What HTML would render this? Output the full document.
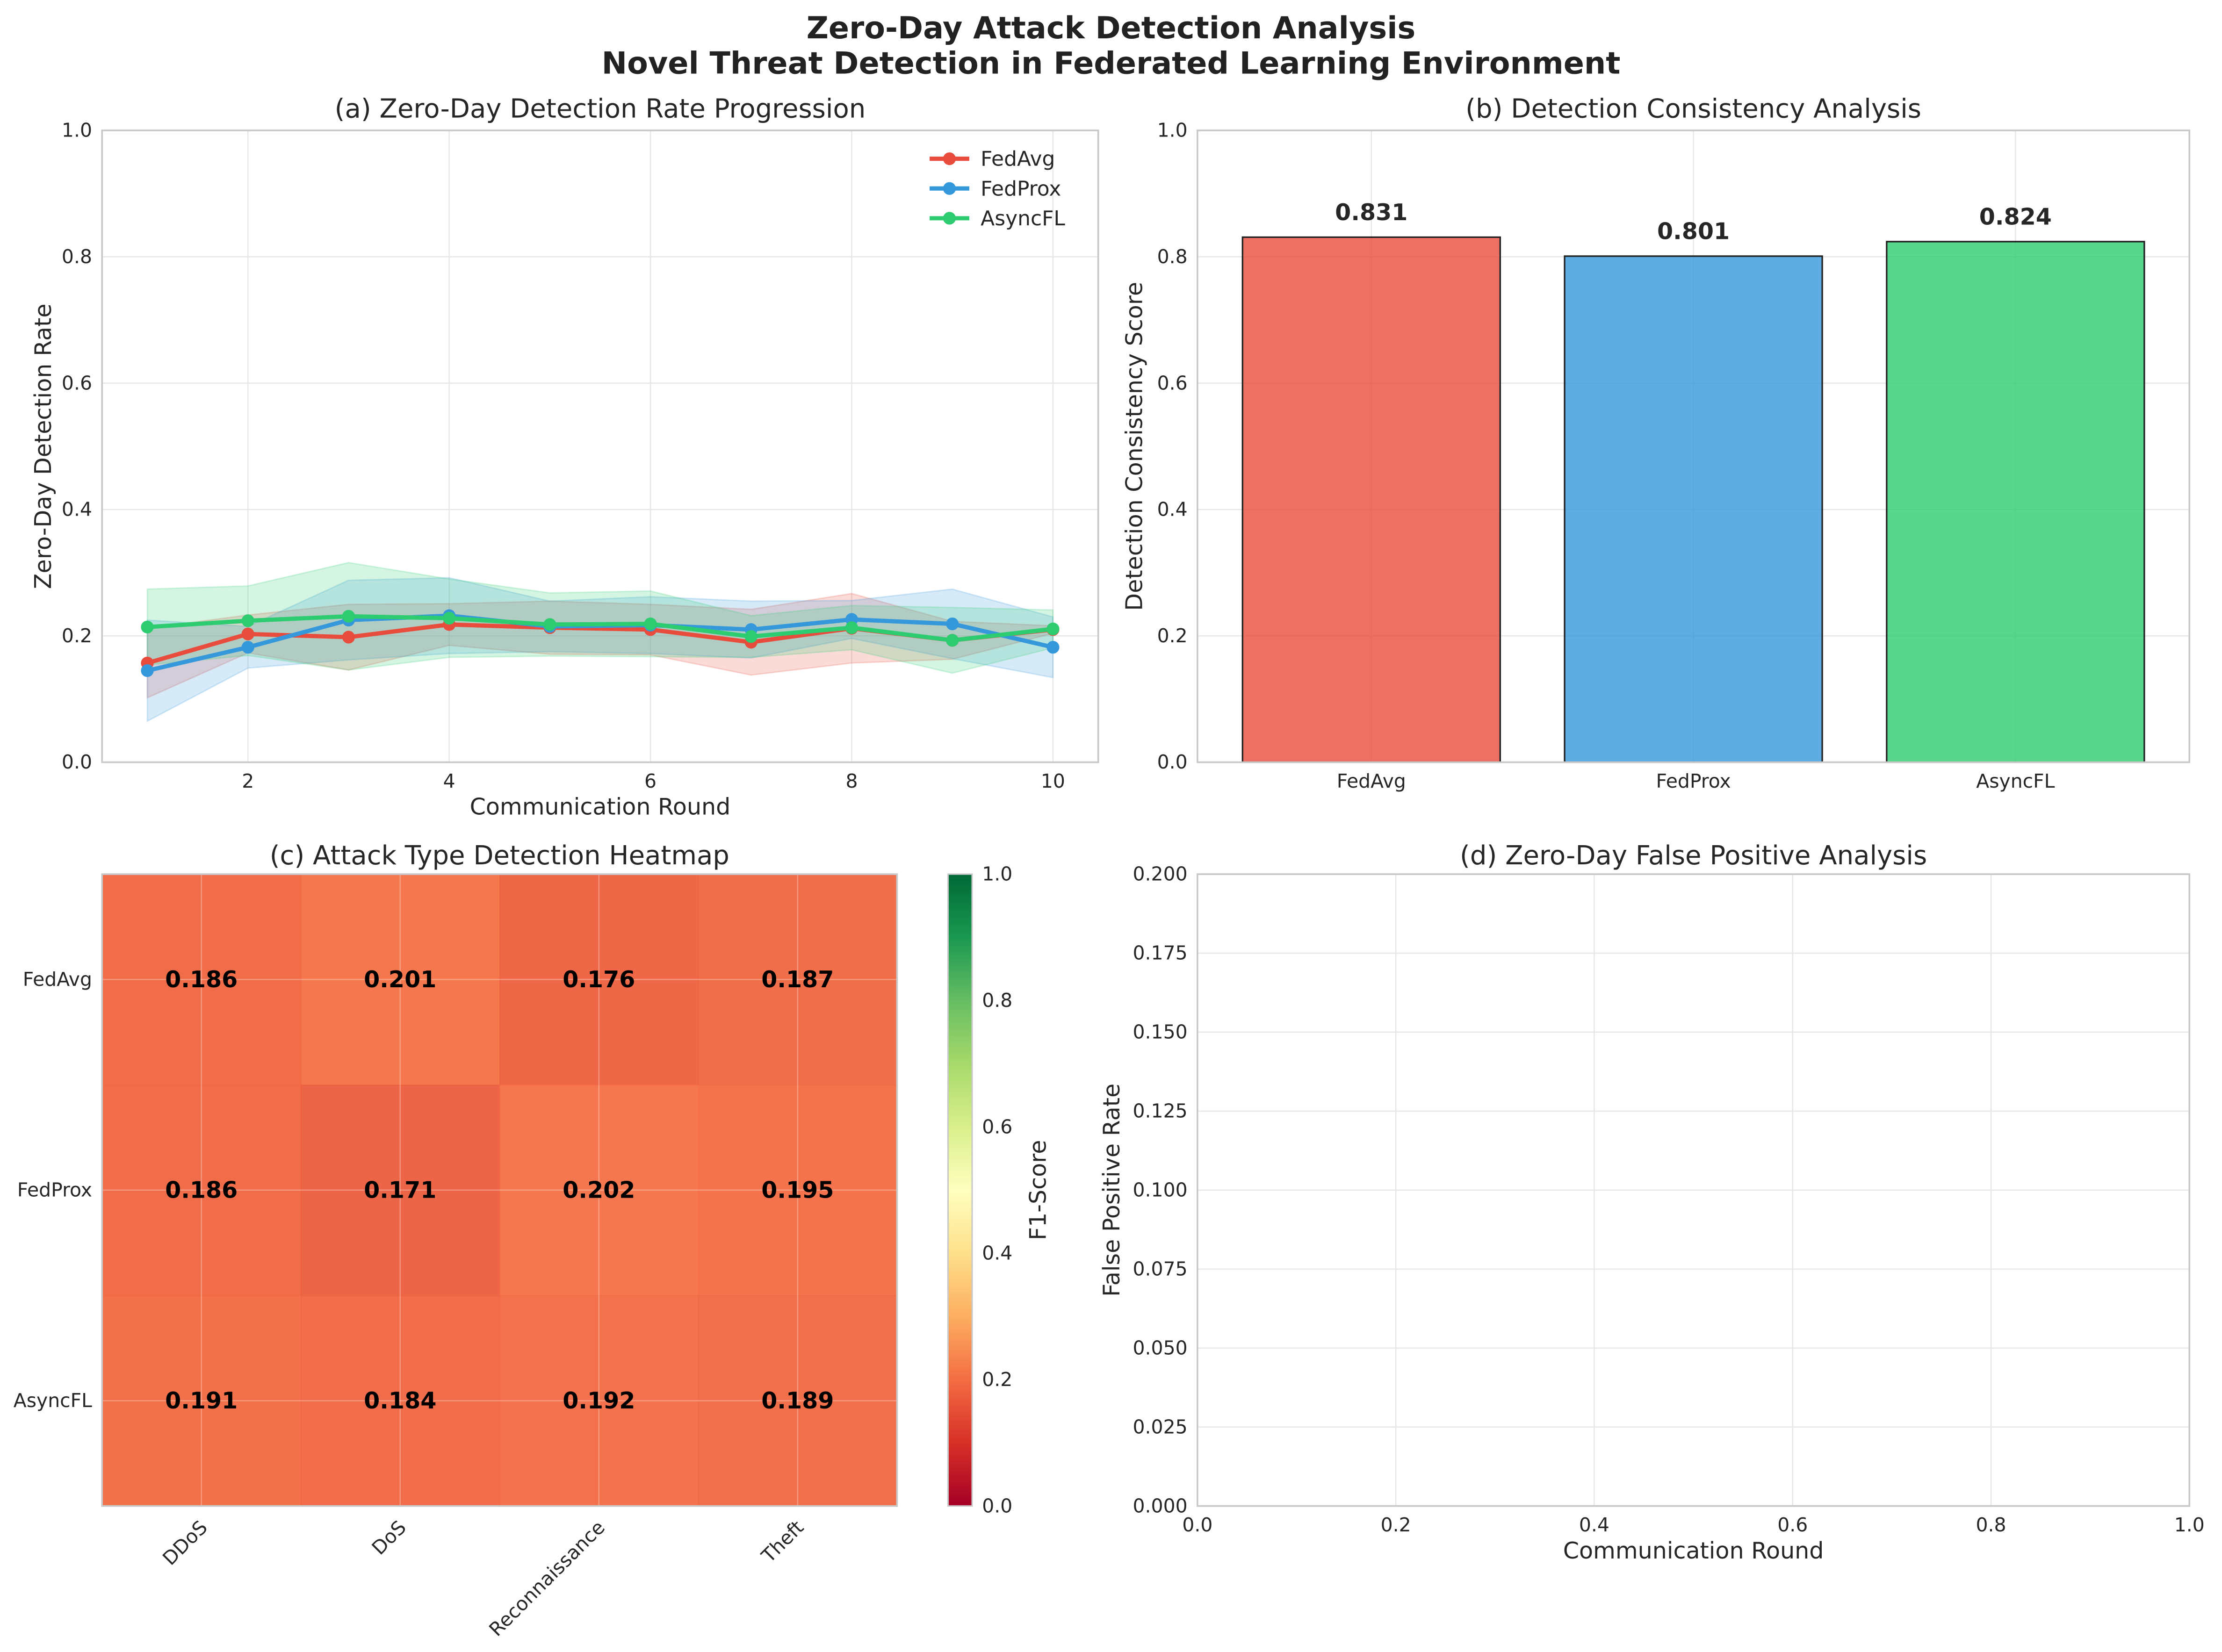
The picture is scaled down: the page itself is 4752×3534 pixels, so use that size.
<!DOCTYPE html>
<html><head><meta charset="utf-8"><style>
html,body{margin:0;padding:0;background:#fff}
svg{display:block;font-family:"DejaVu Sans","Liberation Sans",sans-serif}
</style></head><body>
<svg id="fig" xmlns="http://www.w3.org/2000/svg" width="4752" height="3534" viewBox="0 0 1568 1166">
<rect width="1568" height="1166" fill="#fff"/>
<text x="784" y="27" text-anchor="middle" font-size="21.5" font-weight="bold" fill="#222">Zero-Day Attack Detection Analysis</text>
<text x="784" y="52" text-anchor="middle" font-size="21.5" font-weight="bold" fill="#222">Novel Threat Detection in Federated Learning Environment</text>
<g id="pa"></g>
<g id="pb"></g>
<g id="pc"></g>
<g id="pd"></g>
</svg>
<script>
const rounds=[1,2,3,4,5,6,7,8,9,10];
const fedavgRate=[0.157,0.203,0.198,0.218,0.213,0.210,0.190,0.212,0.193,0.210];
const fedproxRate=[0.145,0.182,0.225,0.232,0.215,0.217,0.210,0.226,0.219,0.182];
const asyncflRate=[0.214,0.224,0.231,0.228,0.218,0.219,0.199,0.213,0.193,0.211];
const fedavgStd=[0.055,0.030,0.052,0.033,0.042,0.040,0.052,0.055,0.030,0.006];
const fedproxStd=[0.080,0.033,0.063,0.060,0.040,0.045,0.045,0.030,0.055,0.048];
const asyncflStd=[0.060,0.055,0.085,0.062,0.050,0.052,0.033,0.035,0.052,0.030];
const methods=["FedAvg","FedProx","AsyncFL"];
const consistency=[0.831,0.801,0.824];
const attackTypes=["DDoS","DoS","Reconnaissance","Theft"];
const heatFedAvg=[0.186,0.201,0.176,0.187];
const heatFedProx=[0.186,0.171,0.202,0.195];
const heatAsyncFL=[0.191,0.184,0.192,0.189];
const yTicksA=[0,0.2,0.4,0.6,0.8,1.0];
const xTicksA=[2,4,6,8,10];
const cbTicks=[0,0.2,0.4,0.6,0.8,1.0];
const yTicksD=[0,0.025,0.05,0.075,0.1,0.125,0.15,0.175,0.2];
const xTicksD=[0,0.2,0.4,0.6,0.8,1.0];
const colors=["#e74c3c","#3498db","#2ecc71"];
const NS="http://www.w3.org/2000/svg";
const FT=18.5, FL=16.2, FK=13.5, FV=16.2;
function mk(p,t,a,txt){const e=document.createElementNS(NS,t);for(const k in a)e.setAttribute(k,a[k]);if(txt!==undefined)e.textContent=txt;p.appendChild(e);return e;}
function lin(d0,d1,r0,r1){return v=>r0+(v-d0)/(d1-d0)*(r1-r0);}
const GRID="#e6e6e6",SP="#c8c8c8",TXT="#262626";
function frame(g,x0,y0,x1,y1){const r=mk(g,'rect',{x:x0,y:y0,width:x1-x0,height:y1-y0,fill:'none',stroke:SP,'stroke-width':1.2});}
function fmt(v,d){return v.toFixed(d);}

// Panel A
(function(){
const g=document.getElementById('pa');
const X0=72,X1=775,Y0=92,Y1=538;
const xs=lin(0.55,10.45,X0,X1), ys=lin(0,1,Y1,Y0);
yTicksA.forEach(t=>{const l=mk(g,'line',{x1:X0,x2:X1,y1:ys(t),y2:ys(t),stroke:GRID,'stroke-width':0.8});
const tx=mk(g,'text',{x:X0-7,y:ys(t)+4.5,'text-anchor':'end','font-size':FK,fill:TXT},fmt(t,1));});
xTicksA.forEach(t=>{const l=mk(g,'line',{x1:xs(t),x2:xs(t),y1:Y0,y2:Y1,stroke:GRID,'stroke-width':0.8});
const tx=mk(g,'text',{x:xs(t),y:Y1+18,'text-anchor':'middle','font-size':FK,fill:TXT},String(t));});
const series=[fedavgRate,fedproxRate,asyncflRate], stds=[fedavgStd,fedproxStd,asyncflStd];
series.forEach((s,i)=>{let up=rounds.map((r,k)=>xs(r)+','+ys(s[k]+stds[i][k]));let lo=rounds.map((r,k)=>xs(r)+','+ys(s[k]-stds[i][k])).reverse();
const p=mk(g,'polygon',{points:up.concat(lo).join(' '),fill:colors[i],'fill-opacity':0.2,stroke:colors[i],'stroke-opacity':0.2});});
series.forEach((s,i)=>{const pl=mk(g,'polyline',{points:rounds.map((r,k)=>xs(r)+','+ys(s[k])).join(' '),fill:'none',stroke:colors[i],'stroke-width':3,'stroke-linejoin':'round'});
rounds.forEach((r,k)=>{const c=mk(g,'circle',{cx:xs(r),cy:ys(s[k]),r:4.5,fill:colors[i]});});});
frame(g,X0,Y0,X1,Y1);
let t=mk(g,'text',{x:(X0+X1)/2,y:83,'text-anchor':'middle','font-size':FT,fill:TXT},'(a) Zero-Day Detection Rate Progression');
t=mk(g,'text',{x:(X0+X1)/2,y:575,'text-anchor':'middle','font-size':FL,fill:TXT},'Communication Round');
t=mk(g,'text',{x:36,y:(Y0+Y1)/2,'text-anchor':'middle','font-size':FL,fill:TXT,transform:'rotate(-90 36 '+(Y0+Y1)/2+')'},'Zero-Day Detection Rate');
methods.forEach((m,i)=>{const y=112+i*21;const le=mk(g,'g',{});
mk(le,'line',{x1:656,x2:684,y1:y,y2:y,stroke:colors[i],'stroke-width':3});mk(le,'circle',{cx:670,cy:y,r:4.5,fill:colors[i]});
mk(le,'text',{x:692,y:y+5,'font-size':14.5,fill:TXT},m);});
})();

// Panel B
(function(){
const g=document.getElementById('pb');
const X0=845,X1=1545,Y0=92,Y1=538;
const xs=lin(-0.54,2.54,X0,X1), ys=lin(0,1,Y1,Y0);
yTicksA.forEach(t=>{const l=mk(g,'line',{x1:X0,x2:X1,y1:ys(t),y2:ys(t),stroke:GRID,'stroke-width':0.8});
const tx=mk(g,'text',{x:X0-7,y:ys(t)+4.5,'text-anchor':'end','font-size':FK,fill:TXT},fmt(t,1));});
methods.forEach((m,i)=>{const l=mk(g,'line',{x1:xs(i),x2:xs(i),y1:Y0,y2:Y1,stroke:GRID,'stroke-width':0.8});});
methods.forEach((m,i)=>{const v=consistency[i];const b=mk(g,'rect',{x:xs(i-0.4),y:ys(v),width:xs(i+0.4)-xs(i-0.4),height:ys(0)-ys(v),fill:colors[i],'fill-opacity':0.8,stroke:'#222','stroke-width':1.1});
let t=mk(g,'text',{x:xs(i),y:ys(v)-12,'text-anchor':'middle','font-size':FV,'font-weight':'bold',fill:TXT},fmt(v,3));
t=mk(g,'text',{x:xs(i),y:Y1+18,'text-anchor':'middle','font-size':FK,fill:TXT},m);});
frame(g,X0,Y0,X1,Y1);
let t=mk(g,'text',{x:(X0+X1)/2,y:83,'text-anchor':'middle','font-size':FT,fill:TXT},'(b) Detection Consistency Analysis');
t=mk(g,'text',{x:806,y:(Y0+Y1)/2,'text-anchor':'middle','font-size':FL,fill:TXT,transform:'rotate(-90 806 '+(Y0+Y1)/2+')'},'Detection Consistency Score');
})();

// Panel C
(function(){
const g=document.getElementById('pc');
const X0=72,X1=633,Y0=617,Y1=1063;
const stops=[[0,'#a50026'],[0.1,'#d73027'],[0.2,'#f46d43'],[0.3,'#fdae61'],[0.4,'#fee08b'],[0.5,'#ffffbf'],[0.6,'#d9ef8b'],[0.7,'#a6d96a'],[0.8,'#66bd63'],[0.9,'#1a9850'],[1,'#006837']];
function hx(h){return [1,3,5].map(i=>parseInt(h.substr(i,2),16));}
function cmap(v){for(let i=0;i<stops.length-1;i++){if(v<=stops[i+1][0]){const f=(v-stops[i][0])/(stops[i+1][0]-stops[i][0]);const a=hx(stops[i][1]),b=hx(stops[i+1][1]);return 'rgb('+a.map((c,k)=>Math.round(c+(b[k]-c)*f)).join(',')+')';}}return stops[10][1];}
const rows=[heatFedAvg,heatFedProx,heatAsyncFL];
const cw=(X1-X0)/attackTypes.length, ch=(Y1-Y0)/rows.length;
rows.forEach((r,i)=>r.forEach((v,j)=>{const c=mk(g,'rect',{x:X0+j*cw,y:Y0+i*ch,width:cw+0.5,height:ch+0.5,fill:cmap(v),'fill-opacity':0.94});}));
attackTypes.forEach((a,j)=>{const x=X0+(j+0.5)*cw;const l=mk(g,'line',{x1:x,x2:x,y1:Y0,y2:Y1,stroke:'#fff','stroke-opacity':0.3,'stroke-width':0.8});
const t=mk(g,'text',{x:x+5,y:Y1+16,'text-anchor':'end','font-size':FK,fill:TXT,transform:'rotate(-45 '+(x+5)+' '+(Y1+16)+')'},a);});
methods.forEach((m,i)=>{const y=Y0+(i+0.5)*ch;const l=mk(g,'line',{x1:X0,x2:X1,y1:y,y2:y,stroke:'#fff','stroke-opacity':0.3,'stroke-width':0.8});
const t=mk(g,'text',{x:X0-7,y:y+4.5,'text-anchor':'end','font-size':FK,fill:TXT},m);});
rows.forEach((r,i)=>r.forEach((v,j)=>{const t=mk(g,'text',{x:X0+(j+0.5)*cw,y:Y0+(i+0.5)*ch+5.5,'text-anchor':'middle','font-size':FV,'font-weight':'bold',fill:'#000'},fmt(v,3));}));
frame(g,X0,Y0,X1,Y1);
const CX0=669,CX1=686;
const defs=mk(g,'defs',{});const lg=mk(defs,'linearGradient',{id:'rdylgn',x1:0,y1:1,x2:0,y2:0});
stops.forEach(s=>mk(lg,'stop',{offset:s[0],'stop-color':s[1]}));
const cb=mk(g,'rect',{x:CX0,y:Y0,width:CX1-CX0,height:Y1-Y0,fill:'url(#rdylgn)',stroke:SP,'stroke-width':1});
const cy=lin(0,1,Y1,Y0);
cbTicks.forEach(t=>{const tx=mk(g,'text',{x:CX1+7,y:cy(t)+4.5,'font-size':FK,fill:TXT},fmt(t,1));});
let t=mk(g,'text',{x:738,y:(Y0+Y1)/2,'text-anchor':'middle','font-size':FL,fill:TXT,transform:'rotate(-90 738 '+(Y0+Y1)/2+')'},'F1-Score');
t=mk(g,'text',{x:(X0+X1)/2,y:610,'text-anchor':'middle','font-size':FT,fill:TXT},'(c) Attack Type Detection Heatmap');
})();

// Panel D
(function(){
const g=document.getElementById('pd');
const X0=845,X1=1545,Y0=617,Y1=1063;
const xs=lin(0,1,X0,X1), ys=lin(0,0.2,Y1,Y0);
yTicksD.forEach(t=>{const l=mk(g,'line',{x1:X0,x2:X1,y1:ys(t),y2:ys(t),stroke:GRID,'stroke-width':0.8});
const tx=mk(g,'text',{x:X0-7,y:ys(t)+4.5,'text-anchor':'end','font-size':FK,fill:TXT},fmt(t,3));});
xTicksD.forEach(t=>{const l=mk(g,'line',{x1:xs(t),x2:xs(t),y1:Y0,y2:Y1,stroke:GRID,'stroke-width':0.8});
const tx=mk(g,'text',{x:xs(t),y:Y1+18,'text-anchor':'middle','font-size':FK,fill:TXT},fmt(t,1));});
frame(g,X0,Y0,X1,Y1);
let t=mk(g,'text',{x:(X0+X1)/2,y:610,'text-anchor':'middle','font-size':FT,fill:TXT},'(d) Zero-Day False Positive Analysis');
t=mk(g,'text',{x:(X0+X1)/2,y:1100,'text-anchor':'middle','font-size':FL,fill:TXT},'Communication Round');
t=mk(g,'text',{x:790,y:(Y0+Y1)/2,'text-anchor':'middle','font-size':FL,fill:TXT,transform:'rotate(-90 790 '+(Y0+Y1)/2+')'},'False Positive Rate');
})();
</script>
</body></html>
